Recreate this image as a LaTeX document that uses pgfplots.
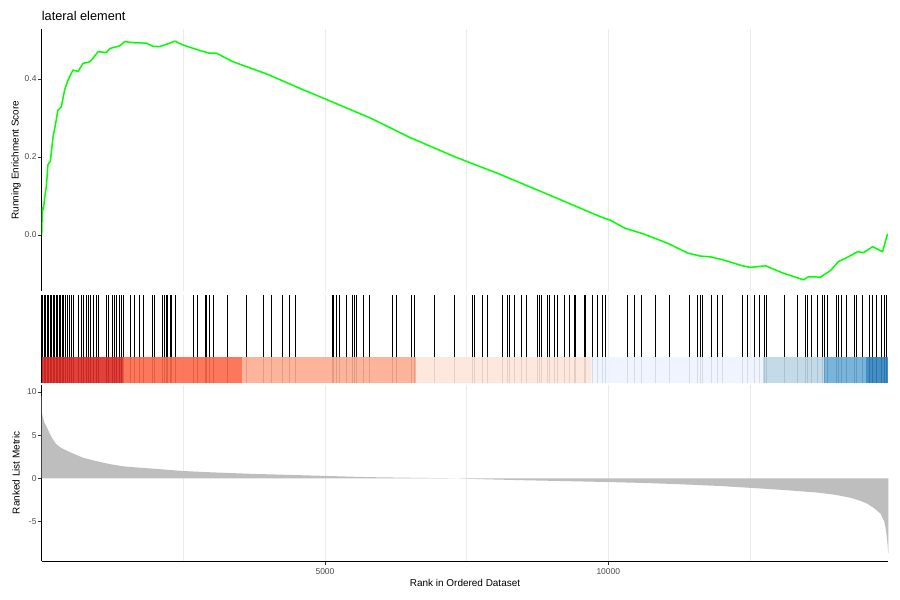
\documentclass[border=0pt]{standalone}
\usepackage{pgfplots}
\pgfplotsset{compat=1.18}
\usepackage{fontspec}
\setmainfont{Liberation Sans}
\definecolor{grey92}{HTML}{EBEBEB}
\definecolor{greyfill}{HTML}{BEBEBE}
\definecolor{grey30}{HTML}{4D4D4D}
\definecolor{grey20}{HTML}{333333}
\definecolor{esgreen}{HTML}{00FF00}
\definecolor{c1}{HTML}{DE2D26}
\definecolor{c2}{HTML}{FB6A4A}
\definecolor{c3}{HTML}{FCAE91}
\definecolor{c4}{HTML}{FEE5D9}
\definecolor{c5}{HTML}{EFF3FF}
\definecolor{c6}{HTML}{BDD7E7}
\definecolor{c7}{HTML}{6BAED6}
\definecolor{c8}{HTML}{3182BD}

\pgfplotstableread{
rank es
1 0.000
12 0.070
30 0.065
53 0.095
83 0.124
111 0.180
154 0.190
200 0.250
247 0.286
288 0.320
348 0.329
406 0.372
465 0.397
553 0.423
641 0.419
730 0.440
848 0.444
906 0.453
995 0.470
1143 0.468
1201 0.478
1378 0.485
1466 0.496
1613 0.493
1850 0.492
1960 0.484
2085 0.483
2262 0.492
2350 0.497
2496 0.487
2792 0.473
2968 0.466
3087 0.466
3380 0.444
3970 0.413
4558 0.376
5000 0.349
5800 0.300
6500 0.250
7300 0.200
8100 0.155
9000 0.100
9859 0.047
10035 0.038
10300 0.017
10618 0.003
11043 -0.021
11414 -0.047
11626 -0.054
11802 -0.056
12032 -0.064
12368 -0.079
12509 -0.083
12774 -0.079
13092 -0.098
13446 -0.115
13534 -0.107
13746 -0.108
13922 -0.091
14064 -0.068
14223 -0.057
14400 -0.043
14506 -0.045
14665 -0.030
14841 -0.043
14929 0.003
}\estable

\pgfplotstableread{
rank hit
1 1
18 1
44 1
71 1
97 1
124 1
150 1
177 1
203 1
230 1
256 1
283 1
309 1
336 1
362 1
389 1
424 1
459 1
495 1
530 1
557 1
654 1
698 1
742 1
786 1
822 1
866 1
919 1
963 1
1007 1
1148 1
1184 1
1254 1
1290 1
1325 1
1369 1
1405 1
1449 1
1572 1
1643 1
1723 1
1802 1
1961 1
1996 1
2138 1
2164 1
2200 1
2226 1
2262 1
2288 1
2350 1
2668 1
2739 1
2880 1
2906 1
2951 1
3021 1
3269 1
3604 1
3905 1
4046 1
4240 1
4364 1
4479 1
5124 1
5150 1
5194 1
5247 1
5371 1
5477 1
5512 1
5548 1
5671 1
5786 1
6184 1
6254 1
6519 1
6572 1
6935 1
7288 1
7606 1
7633 1
7783 1
7871 1
8136 1
8224 1
8251 1
8339 1
8463 1
8551 1
8754 1
8781 1
8816 1
8931 1
8958 1
9046 1
9107 1
9223 1
9311 1
9399 1
9426 1
9576 1
9603 1
9726 1
9814 1
9903 1
9956 1
10336 1
10451 1
10575 1
10822 1
11069 1
11422 1
11573 1
11617 1
11661 1
11811 1
11926 1
12014 1
12368 1
12456 1
12571 1
12659 1
12747 1
12783 1
13101 1
13339 1
13481 1
13516 1
13578 1
13693 1
13781 1
13816 1
13869 1
14019 1
14064 1
14108 1
14196 1
14338 1
14373 1
14488 1
14611 1
14655 1
14726 1
14814 1
14867 1
14902 1
}\hittable

\pgfplotstableread{
rank metric
1 9.9
6 7.5
20 7.1
53 6.4
100 5.8
141 5.2
200 4.5
265 3.9
350 3.5
442 3.2
580 2.8
724 2.4
870 2.15
1025 1.9
1200 1.65
1431 1.4
1650 1.27
1908 1.15
2200 1.0
2491 0.85
2900 0.72
3375 0.6
3800 0.5
4258 0.42
5000 0.28
5742 0.14
6678 0.05
7297 0.0
7650 -0.08
8500 -0.22
9300 -0.33
10000 -0.43
10700 -0.55
11325 -0.7
12000 -0.9
12509 -1.1
13100 -1.35
13693 -1.65
14000 -1.9
14276 -2.25
14450 -2.6
14576 -2.95
14700 -3.5
14806 -4.1
14870 -5.0
14894 -5.7
14920 -7.0
14942 -8.7
}\metrictable

\pgfplotsset{
  gsea/.style={
    scale only axis,
    width=846.6bp,
    xmin=1, xmax=14942,
    scaled x ticks=false,
    scaled y ticks=false,
    axis lines*=left,
    axis line style={black, line width=0.55bp},
    xtick={5000,10000},
    minor xtick={2500,7500,12500},
    xmajorgrids, xminorgrids,
    major grid style={grey92, line width=0.8bp},
    minor grid style={grey92, line width=0.4bp},
    tick align=outside,
    major tick length=3.7bp,
    minor tick length=0pt,
    tick style={grey20, line width=0.5bp},
    ticklabel style={font=\fontsize{8.5}{10}\selectfont, text=grey30},
    yticklabel style={xshift=2bp},
    label style={font=\fontsize{10.7}{12}\selectfont, text=black},
    every axis y label/.style={at={(rel axis cs:0,0.5)}, xshift=-25.7bp, rotate=90, anchor=center},
    every axis title shift=0pt,
  }
}

\begin{document}
\begin{tikzpicture}
\fill[white] (0,0) rectangle (900bp,-600bp);
\useasboundingbox (0,0) rectangle (900bp,-600bp);

% Running enrichment score
\begin{axis}[gsea,
  at={(41.7bp,-291bp)}, anchor=south west,
  height=261.7bp,
  ymin=-0.1436, ymax=0.5274,
  x axis line style={draw=none},
  xtick style={draw=none},
  xticklabels={},
  ytick={0,0.2,0.4},
  yticklabels={0.0,0.2,0.4},
  ylabel={Running Enrichment Score},
  title={lateral element},
  title style={at={(rel axis cs:0,1)}, anchor=base west, yshift=8.6bp, inner sep=0pt, font=\fontsize{12.8}{14}\selectfont},
]
\addplot[esgreen, line width=1.5bp, line join=round] table[x=rank, y=es] {\estable};
\end{axis}

% Hits and colour bar
\begin{axis}[gsea,
  at={(41.7bp,-383bp)}, anchor=south west,
  height=88bp,
  ymin=0, ymax=1,
  x axis line style={draw=none},
  xtick style={draw=none},
  ytick=\empty,
  xticklabels={},
]
\addplot[ycomb, black, line width=0.6bp, mark=none] table[x=rank, y=hit] {\hittable};
\addplot[draw=none, fill=c1, fill opacity=0.9] coordinates {(1,0.3) (1431,0.3)} \closedcycle;
\addplot[draw=none, fill=c2, fill opacity=0.9] coordinates {(1431,0.3) (3534,0.3)} \closedcycle;
\addplot[draw=none, fill=c3, fill opacity=0.9] coordinates {(3534,0.3) (6608,0.3)} \closedcycle;
\addplot[draw=none, fill=c4, fill opacity=0.9] coordinates {(6608,0.3) (9700,0.3)} \closedcycle;
\addplot[draw=none, fill=c5, fill opacity=0.9] coordinates {(9700,0.3) (12739,0.3)} \closedcycle;
\addplot[draw=none, fill=c6, fill opacity=0.9] coordinates {(12739,0.3) (13799,0.3)} \closedcycle;
\addplot[draw=none, fill=c7, fill opacity=0.9] coordinates {(13799,0.3) (14541,0.3)} \closedcycle;
\addplot[draw=none, fill=c8, fill opacity=0.9] coordinates {(14541,0.3) (14942,0.3)} \closedcycle;
\end{axis}

% Ranked list metric
\begin{axis}[gsea,
  at={(41.7bp,-561bp)}, anchor=south west,
  height=176.5bp,
  ymin=-9.57, ymax=10.86,
  ytick={-5,0,5,10},
  yticklabels={-5,0,5,10},
  xticklabels={5000,10000},
  ylabel={Ranked List Metric},
  xlabel={Rank in Ordered Dataset},
  every axis x label/.style={at={(rel axis cs:0.5,0)}, yshift=-25.7bp, anchor=base},
]
\addplot[draw=none, fill=greyfill] table[x=rank, y=metric] {\metrictable} \closedcycle;
\end{axis}
\end{tikzpicture}
\end{document}
